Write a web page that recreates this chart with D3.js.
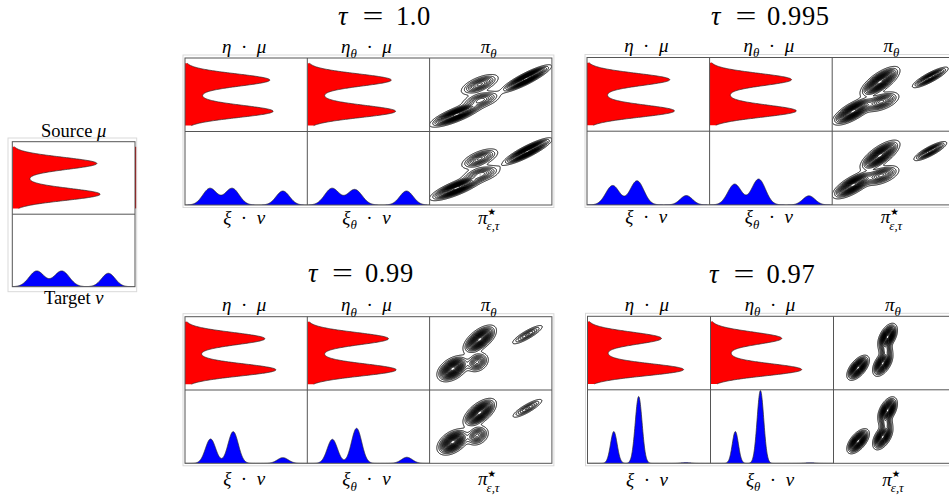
<!DOCTYPE html>
<html><head><meta charset="utf-8">
<script src="https://cdn.jsdelivr.net/npm/d3@7"></script>
<style>
body{margin:0;background:#fff}
svg{display:block}
text{font-family:"Liberation Serif","DejaVu Serif",serif;fill:#000}
</style>
</head><body>
<svg id="c" width="949" height="500"></svg>
<script>
// ---------------- DATA ----------------
const tauLabels = ["1.0", "0.995", "0.99", "0.97"];

// mu densities (vertical, 0 = top of cell): two modes + a small bridge between them
const redPeakPos = [0.30, 0.725, 0.5125];
const redSigma = [0.085, 0.085, 0.07];
const redDomain = [0.07, 0.92];
const srcMuAmp = [0.688, 0.715, 0.082];
// eta . mu and eta_theta . mu per tau
const etaMuAmp   = [[0.693, 0.720, 0.082], [0.674, 0.712, 0.107], [0.652, 0.742, 0.075], [0.600, 0.780, 0.109]];
const etaThMuAmp = [[0.686, 0.721, 0.080], [0.667, 0.706, 0.109], [0.663, 0.726, 0.081], [0.578, 0.740, 0.112]];

// nu densities (horizontal, three modes)
const srcNuPos = [0.199, 0.403, 0.783];
const srcNuAmp = [0.217, 0.217, 0.185];
const srcNuSig = [0.062, 0.062, 0.055];
// xi . nu per tau
const xiNuPos = [[0.204, 0.385, 0.800], [0.209, 0.408, 0.810], [0.209, 0.394, 0.800], [0.214, 0.416, 0.800]];
const xiNuAmp = [[0.227, 0.227, 0.190], [0.263, 0.327, 0.127], [0.332, 0.432, 0.077], [0.432, 0.909, 0.010]];
const xiNuSig = [[0.058, 0.058, 0.055], [0.056, 0.056, 0.050], [0.042, 0.042, 0.045], [0.027, 0.028, 0.040]];
// xi_theta . nu per tau
const xiThNuPos = [[0.202, 0.388, 0.811], [0.204, 0.400, 0.810], [0.205, 0.403, 0.814], [0.202, 0.406, 0.810]];
const xiThNuAmp = [[0.227, 0.211, 0.190], [0.282, 0.350, 0.123], [0.327, 0.477, 0.082], [0.432, 0.990, 0.008]];
const xiThNuSig = [[0.060, 0.060, 0.055], [0.056, 0.056, 0.050], [0.042, 0.042, 0.045], [0.025, 0.027, 0.040]];

// Plans: Gaussian components [u, v(from top), sigmaMajor, sigmaMinor (fractions of cell width), angle deg, peak]
const piTheta = [
  [[0.79, 0.28, 0.094, 0.019, 27, 1.00], [0.41, 0.36, 0.076, 0.028, 22, 0.45],
   [0.42, 0.57, 0.076, 0.029, 15, 0.40], [0.22, 0.77, 0.096, 0.023, 22, 1.00]],
  [[0.80, 0.27, 0.073, 0.017, 28, 0.60], [0.39, 0.33, 0.078, 0.030, 35, 1.00],
   [0.40, 0.60, 0.070, 0.030, 20, 0.50], [0.17, 0.73, 0.078, 0.028, 30, 1.00]],
  [[0.80, 0.245, 0.072, 0.017, 30, 0.30], [0.41, 0.31, 0.066, 0.032, 38, 1.00],
   [0.39, 0.62, 0.045, 0.034, 30, 0.45], [0.19, 0.71, 0.059, 0.035, 33, 1.00]],
  [[0.20, 0.70, 0.050, 0.025, 50, 1.00], [0.44, 0.28, 0.049, 0.026, 62, 1.00],
   [0.40, 0.64, 0.049, 0.026, 58, 0.90], [0.425, 0.46, 0.030, 0.025, 70, 0.30]]
];
const piStar = [
  [[0.80, 0.27, 0.092, 0.019, 27, 1.00], [0.41, 0.37, 0.074, 0.028, 22, 0.45],
   [0.42, 0.58, 0.076, 0.029, 15, 0.40], [0.22, 0.77, 0.096, 0.023, 22, 1.00]],
  [[0.80, 0.27, 0.068, 0.017, 28, 0.55], [0.39, 0.33, 0.078, 0.030, 35, 1.00],
   [0.40, 0.60, 0.070, 0.030, 20, 0.50], [0.17, 0.73, 0.078, 0.028, 30, 1.00]],
  [[0.80, 0.25, 0.070, 0.017, 30, 0.30], [0.41, 0.31, 0.066, 0.032, 38, 1.00],
   [0.39, 0.62, 0.045, 0.034, 30, 0.45], [0.19, 0.71, 0.059, 0.035, 33, 1.00]],
  [[0.20, 0.70, 0.050, 0.025, 50, 1.00], [0.44, 0.28, 0.049, 0.026, 62, 1.00],
   [0.40, 0.64, 0.049, 0.026, 58, 0.90], [0.425, 0.46, 0.030, 0.025, 70, 0.30]]
];
const contourLevels = 20;

const topLabels = [
  [["η", "i"], ["\u2002·\u2002", "n"], ["μ", "i"]],
  [["η", "i"], ["θ", "sub"], ["\u2002·\u2002", "n"], ["μ", "i"]],
  [["π", "i"], ["θ", "sub"]]
];
const bottomLabels = [
  [["ξ", "i"], ["\u2002·\u2002", "n"], ["ν", "i"]],
  [["ξ", "i"], ["θ", "sub"], ["\u2002·\u2002", "n"], ["ν", "i"]],
  [["π", "i"], ["★", "sup"], ["ε,τ", "subback"]]
];
const sourceLabel = [["Source ", "n"], ["μ", "i"]];
const targetLabel = [["Target ", "n"], ["ν", "i"]];

// ---------------- LAYOUT ----------------
const svg = d3.select("#c");
const groups = [
  {x0: 185,   y0: 58,    cw: 122.3, rh: 73.5, tau: {x: 338, eq: 373,   n: 396,   y: 25},  lb: 19},
  {x0: 587,   y0: 57.5,  cw: 122.6, rh: 73.7, tau: {x: 711, eq: 746,   n: 767,   y: 25},  lb: 18.5},
  {x0: 185,   y0: 316.7, cw: 122.3, rh: 73.3, tau: {x: 308, eq: 342.5, n: 365,   y: 282}, lb: 22},
  {x0: 587.5, y0: 316.3, cw: 123,   rh: 73.5, tau: {x: 709, eq: 744,   n: 766.5, y: 283}, lb: 22.5}
];

let clipId = 0;
function cellGroup(x, y, w, h) {
  const id = "cl" + (clipId++);
  svg.append("clipPath").attr("id", id).append("rect")
    .attr("x", x).attr("y", y).attr("width", w).attr("height", h);
  return svg.append("g").attr("clip-path", `url(#${id})`);
}

function mix(pos, amp, sig) {
  return t => d3.sum(pos, (p, i) => amp[i] * Math.exp(-((t - p) ** 2) / (2 * sig[i] ** 2)));
}

function drawRed(x, y, w, h, amp) {
  const g = cellGroup(x, y, w, h);
  const xs = d3.scaleLinear().domain([0, 1]).range([x, x + w]);
  const ys = d3.scaleLinear().domain([0, 1]).range([y, y + h]);
  const f = mix(redPeakPos, amp, redSigma);
  const vs = d3.scaleLinear().domain([0, 300]).range(redDomain);
  const pts = d3.range(0, 301).map(i => ({v: vs(i), d: f(vs(i))}));
  g.append("path").datum(pts)
    .attr("d", d3.area().y(d => ys(d.v)).x0(xs(0)).x1(d => xs(d.d)))
    .attr("fill", "#ff0000");
  g.append("path").datum(pts)
    .attr("d", d3.line().y(d => ys(d.v)).x(d => xs(d.d)))
    .attr("fill", "none").attr("stroke", "#2a2a2a").attr("stroke-width", 0.7);
}

function drawBlue(x, y, w, h, pos, amp, sig) {
  const g = cellGroup(x, y, w, h);
  const xs = d3.scaleLinear().domain([0, 1]).range([x, x + w]);
  const ys = d3.scaleLinear().domain([0, 1]).range([y + h, y]);
  const f = mix(pos, amp, sig);
  const us = d3.scaleLinear().domain([0, 500]).range([0, 1]);
  const pts = d3.range(0, 501).map(i => ({u: us(i), d: f(us(i))}));
  g.append("path").datum(pts)
    .attr("d", d3.area().x(d => xs(d.u)).y0(ys(0)).y1(d => ys(d.d)))
    .attr("fill", "#0000ff");
  g.append("path").datum(pts)
    .attr("d", d3.line().x(d => xs(d.u)).y(d => ys(d.d)))
    .attr("fill", "none").attr("stroke", "#2a2a2a").attr("stroke-width", 0.7);
}

function drawContours(x, y, w, h, comps) {
  const g = cellGroup(x, y, w, h);
  const res = 3;
  const nx = Math.round(w * res), ny = Math.round(h * res);
  const gu = d3.scaleLinear().domain([0, nx]).range([0, 1]);
  const gv = d3.scaleLinear().domain([0, ny]).range([0, 1]);
  const values = new Float64Array(nx * ny);
  const cs = comps.map(c => {
    const a = c[4] * Math.PI / 180;
    return {cx: c[0] * w, cy: c[1] * h, sM: c[2] * w, sm: c[3] * w, ca: Math.cos(a), sa: Math.sin(a), amp: c[5]};
  });
  for (let j = 0; j < ny; j++) {
    const py = gv(j + 0.5) * h;
    for (let i = 0; i < nx; i++) {
      const px = gu(i + 0.5) * w;
      let s = 0;
      for (const c of cs) {
        const dx = px - c.cx, dy = py - c.cy;
        const al = dx * c.ca - dy * c.sa;
        const pe = dx * c.sa + dy * c.ca;
        s += c.amp * Math.exp(-(al * al) / (2 * c.sM * c.sM) - (pe * pe) / (2 * c.sm * c.sm));
      }
      values[j * nx + i] = s;
    }
  }
  const mx = d3.max(values);
  const th = d3.range(1, contourLevels + 1).map(k => k * mx / (contourLevels + 1));
  const contours = d3.contours().size([nx, ny]).thresholds(th)(values);
  const xs = d3.scaleLinear().domain([0, nx]).range([x, x + w]);
  const ys = d3.scaleLinear().domain([0, ny]).range([y, y + h]);
  const path = d3.geoPath(d3.geoTransform({point(px, py) { this.stream.point(xs(px), ys(py)); }}));
  g.selectAll(null).data(contours).join("path")
    .attr("d", path).attr("fill", "none").attr("stroke", "#000").attr("stroke-width", 0.95);
}

function mathText(x, y, parts, size, anchor) {
  const t = svg.append("text").attr("x", x).attr("y", y)
    .attr("font-size", size).attr("text-anchor", anchor || "middle");
  let shift = 0;
  for (const [s, k] of parts) {
    let target = 0, fs = size, dx = 0, style = "normal";
    if (k === "i") style = "italic";
    if (k === "sub") { target = size * 0.28; fs = size * 0.68; style = "italic"; }
    if (k === "sup") { target = -size * 0.45; fs = size * 0.5; }
    if (k === "subback") { target = size * 0.33; fs = size * 0.68; style = "italic"; dx = -size * 0.5; }
    const ts = t.append("tspan").attr("font-size", fs).attr("font-style", style)
      .attr("dy", target - shift).text(s);
    if (dx) ts.attr("dx", dx);
    if (k === "sup") ts.attr("font-family", "DejaVu Sans");
    shift = target;
  }
  return t;
}

function gridLines(x0, y0, cols, cw, rows, rh, frame) {
  const W = cols * cw, H = rows * rh;
  svg.append("rect").attr("x", x0 - frame[0]).attr("y", y0 - frame[1])
    .attr("width", W + frame[0] + frame[2]).attr("height", H + frame[1] + frame[3])
    .attr("fill", "none").attr("stroke", "#d9d9d9").attr("stroke-width", 1);
  const gl = svg.append("g").attr("stroke", "#555").attr("stroke-width", 1).attr("fill", "none");
  gl.append("rect").attr("x", x0).attr("y", y0).attr("width", W).attr("height", H);
  d3.range(1, cols).forEach(c => gl.append("line").attr("x1", x0 + c * cw).attr("x2", x0 + c * cw).attr("y1", y0).attr("y2", y0 + H));
  d3.range(1, rows).forEach(r => gl.append("line").attr("x1", x0).attr("x2", x0 + W).attr("y1", y0 + r * rh).attr("y2", y0 + r * rh));
}

function title(T, label) {
  const fs = 26.5;
  svg.append("text").attr("x", T.x).attr("y", T.y).attr("font-size", fs)
    .attr("font-style", "italic").text("τ");
  svg.append("text").attr("transform", `translate(${T.eq},${T.y}) scale(1.4,1)`)
    .attr("font-size", fs).attr("text-anchor", "middle").text("=");
  svg.append("text").attr("x", T.n).attr("y", T.y).attr("font-size", fs)
    .attr("letter-spacing", 0.6).text(label);
}

// ---------------- SOURCE / TARGET ----------------
{
  const x0 = 12.3, y0 = 141.7, w = 122.7, h = 72.5;
  drawRed(x0, y0, w, h, srcMuAmp);
  drawBlue(x0, y0 + h, w, h, srcNuPos, srcNuAmp, srcNuSig);
  // sliver of the neighbouring red density on the right edge
  const ys = d3.scaleLinear().domain([0, 1]).range([y0, y0 + h]);
  svg.append("rect").attr("x", x0 + w).attr("width", 1.6)
    .attr("y", ys(redDomain[0])).attr("height", ys(redDomain[1]) - ys(redDomain[0]))
    .attr("fill", "#c00000");
  gridLines(x0, y0, 1, w, 2, h, [4.3, 3.7, 1.7, 5]);
  mathText(x0 + w / 2, 136.5, sourceLabel, 18.5);
  mathText(x0 + w / 2, 304, targetLabel, 18.5);
}

// ---------------- GROUPS ----------------
groups.forEach((G, k) => {
  const {x0, y0, cw, rh} = G;
  drawRed(x0, y0, cw, rh, etaMuAmp[k]);
  drawRed(x0 + cw, y0, cw, rh, etaThMuAmp[k]);
  drawContours(x0 + 2 * cw, y0, cw, rh, piTheta[k]);
  drawBlue(x0, y0 + rh, cw, rh, xiNuPos[k], xiNuAmp[k], xiNuSig[k]);
  drawBlue(x0 + cw, y0 + rh, cw, rh, xiThNuPos[k], xiThNuAmp[k], xiThNuSig[k]);
  drawContours(x0 + 2 * cw, y0 + rh, cw, rh, piStar[k]);
  gridLines(x0, y0, 3, cw, 2, rh, [2, 3, 2, 2.5]);

  topLabels.forEach((p, c) => mathText(x0 + (c + 0.5) * cw - 2, y0 - 5.5, p, 19));
  bottomLabels.forEach((p, c) => mathText(x0 + (c + 0.5) * cw - 2, y0 + 2 * rh + G.lb, p, 19));
  title(G.tau, tauLabels[k]);
});
</script>
</body></html>
